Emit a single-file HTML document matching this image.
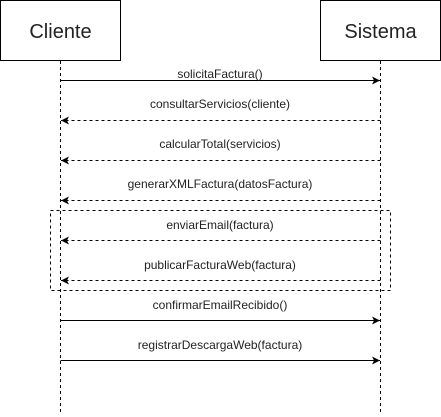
<!DOCTYPE html>
<html><head><style>body{margin:0;background:#fff}</style></head><body>
<svg width="441" height="412" xmlns="http://www.w3.org/2000/svg" font-family="Liberation Sans, Arial, sans-serif">
<defs>
<marker id="a" markerWidth="10" markerHeight="10" refX="8" refY="5" orient="auto" markerUnits="userSpaceOnUse">
<path d="M0,1 L8,5 L0,9 L2,5 Z" fill="#000"/>
</marker>
</defs>
<rect x="0.5" y="0.5" width="120" height="60" fill="#fff" stroke="#000"/>
<rect x="320.5" y="0.5" width="120" height="60" fill="#fff" stroke="#000"/>
<text x="60.5" y="38" font-size="20" text-anchor="middle" fill="#222">Cliente</text>
<text x="380.5" y="38" font-size="20" text-anchor="middle" fill="#222">Sistema</text>
<g stroke="#000" stroke-dasharray="3,3" fill="none">
<line x1="60.5" y1="61" x2="60.5" y2="412"/>
<line x1="380.5" y1="61" x2="380.5" y2="412"/>
<rect x="50.5" y="210.5" width="340" height="80"/>
</g>
<g stroke="#000" fill="none">
<line x1="60.5" y1="80.5" x2="380" y2="80.5" marker-end="url(#a)"/>
<line x1="380.5" y1="120.5" x2="61" y2="120.5" stroke-dasharray="3,3" marker-end="url(#a)"/>
<line x1="380.5" y1="160.5" x2="61" y2="160.5" stroke-dasharray="3,3" marker-end="url(#a)"/>
<line x1="380.5" y1="200.5" x2="61" y2="200.5" stroke-dasharray="3,3" marker-end="url(#a)"/>
<line x1="380.5" y1="240.5" x2="61" y2="240.5" stroke-dasharray="3,3" marker-end="url(#a)"/>
<line x1="380.5" y1="280.5" x2="61" y2="280.5" stroke-dasharray="3,3" marker-end="url(#a)"/>
<line x1="60.5" y1="320.5" x2="380" y2="320.5" marker-end="url(#a)"/>
<line x1="60.5" y1="360.5" x2="380" y2="360.5" marker-end="url(#a)"/>
</g>
<g font-size="12" text-anchor="middle" fill="#222">
<text x="220" y="78">solicitaFactura()</text>
<text x="220" y="108">consultarServicios(cliente)</text>
<text x="220" y="148">calcularTotal(servicios)</text>
<text x="220" y="188">generarXMLFactura(datosFactura)</text>
<text x="220" y="229">enviarEmail(factura)</text>
<text x="220" y="269">publicarFacturaWeb(factura)</text>
<text x="220" y="309">confirmarEmailRecibido()</text>
<text x="220" y="349">registrarDescargaWeb(factura)</text>
</g>
</svg>
</body></html>
